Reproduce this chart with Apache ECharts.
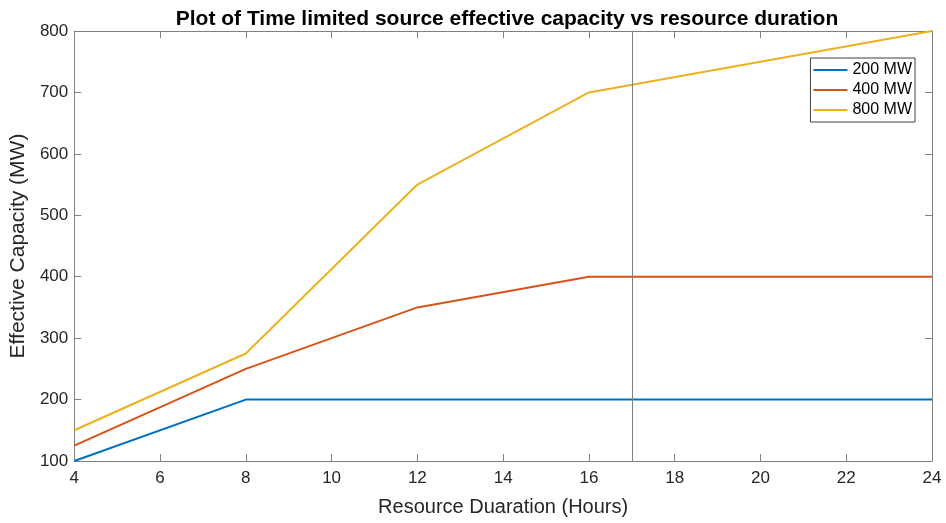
<!DOCTYPE html>
<html><head><meta charset="utf-8">
<script src="https://cdn.jsdelivr.net/npm/echarts@6/dist/echarts.min.js"></script>
<style>html,body{margin:0;padding:0;background:#fff}#c{width:946px;height:523px}</style>
</head><body><div id="c"></div>
<script>
const durations = [4, 8, 12, 16, 24];
const cap200 = [100, 200, 200, 200, 200];
const cap400 = [125, 250, 350, 400, 400];
const cap800 = [150, 275, 550, 700, 800];
const seriesNames = ['200 MW', '400 MW', '800 MW'];
const markerX = 17;
const colors = ['#0072BD', '#D95319', '#EDB120'];

const chart = echarts.init(document.getElementById('c'));
const font = 'Liberation Sans, Arial, sans-serif';
const pairs = v => durations.map((d, i) => [d, v[i]]);
const axisLine = {show: true, lineStyle: {color: '#808080', width: 1}};
const tick = {show: true, inside: true, length: 7, lineStyle: {color: '#808080'}};
const series = [cap200, cap400, cap800].map((v, i) => ({
  name: seriesNames[i], type: 'line', data: pairs(v), symbol: 'none',
  lineStyle: {color: colors[i], width: 2}, itemStyle: {color: colors[i]},
  animation: false, z: 3
}));
series[0].markLine = {
  silent: true, symbol: 'none', animation: false,
  label: {show: false},
  lineStyle: {color: '#808080', width: 1, type: 'solid'},
  data: [{xAxis: markerX}]
};
chart.setOption({
  animation: false,
  title: {text: 'Plot of Time limited source effective capacity vs resource duration',
    left: 502, textAlign: 'center', top: 4,
    textStyle: {fontFamily: font, fontSize: 21, fontWeight: 'bold', color: '#000'}},
  grid: {left: 72, right: 14, top: 31, bottom: 62, containLabel: false},
  legend: {right: 31, top: 58, orient: 'vertical', itemWidth: 34, itemHeight: 2, itemGap: 4,
    padding: [4, 3, 4, 3], borderColor: '#404040', borderWidth: 1, backgroundColor: '#fff',
    icon: 'rect', textStyle: {fontFamily: font, fontSize: 16, color: '#000'},
    data: seriesNames},
  xAxis: [{type: 'value', min: 4, max: 24, interval: 2, position: 'bottom',
    name: 'Resource Duaration (Hours)', nameLocation: 'middle', nameGap: 36,
    nameTextStyle: {fontFamily: font, fontSize: 20, color: '#262626'},
    axisLine, axisTick: tick, splitLine: {show: false},
    axisLabel: {fontFamily: font, fontSize: 17, color: '#262626', margin: 9}},
    {type: 'value', min: 4, max: 24, interval: 2, position: 'top',
    axisLine, axisTick: tick, axisLabel: {show: false}, splitLine: {show: false}}],
  yAxis: [{type: 'value', min: 100, max: 800, interval: 100, position: 'left',
    name: 'Effective Capacity (MW)', nameLocation: 'middle', nameGap: 42,
    nameTextStyle: {fontFamily: font, fontSize: 21, color: '#262626'},
    axisLine, axisTick: tick, splitLine: {show: false},
    axisLabel: {fontFamily: font, fontSize: 17, color: '#262626', margin: 6}},
    {type: 'value', min: 100, max: 800, interval: 100, position: 'right',
    axisLine, axisTick: tick, axisLabel: {show: false}, splitLine: {show: false}}],
  series
});
</script></body></html>
